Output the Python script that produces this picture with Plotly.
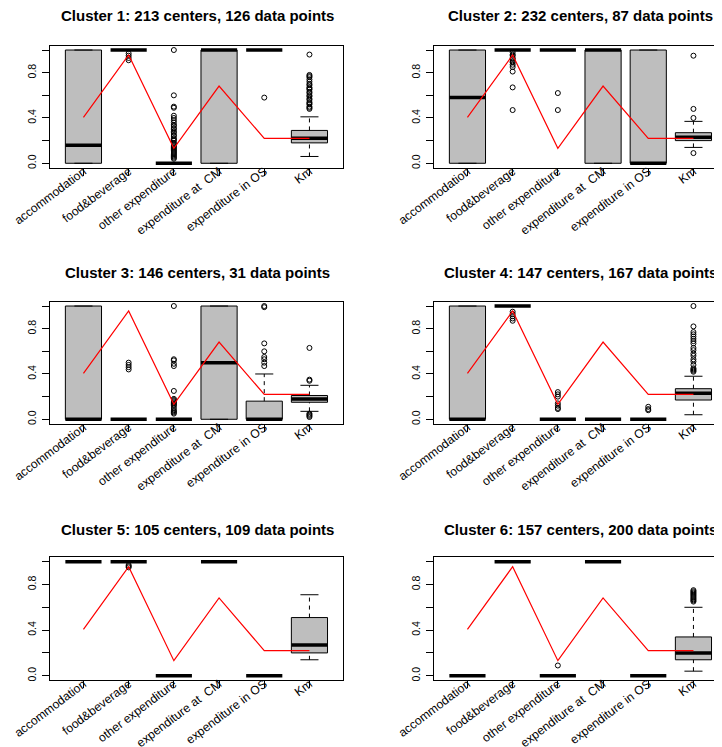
import plotly.graph_objects as go

categories = ["accommodation", "food&beverage", "other expenditure",
              "expenditure at\u00a0 CM", "expenditure in OS", "Km"]
x_pos = [1, 2, 3, 4, 5, 6]
overall_mean = [0.406, 0.956, 0.132, 0.682, 0.22, 0.22]

cluster_titles = [
    "Cluster 1: 213 centers, 126 data points",
    "Cluster 2: 232 centers, 87 data points",
    "Cluster 3: 146 centers, 31 data points",
    "Cluster 4: 147 centers, 167 data points",
    "Cluster 5: 105 centers, 109 data points",
    "Cluster 6: 157 centers, 200 data points",
]

# box statistics per category: lower whisker, q1, median, q3, upper whisker
c1_lower = [0.0, 1.0, 0.0, 0.0, 1.0, 0.06]
c1_q1 = [0.0, 1.0, 0.0, 0.0, 1.0, 0.18]
c1_med = [0.16, 1.0, 0.0, 1.0, 1.0, 0.22]
c1_q3 = [1.0, 1.0, 0.0, 1.0, 1.0, 0.29]
c1_upper = [1.0, 1.0, 0.0, 1.0, 1.0, 0.41]
c1_out = [
    [],
    [0.97, 0.95, 0.93, 0.91],
    [1.0, 0.60, 0.50, 0.49, 0.42, 0.40, 0.38, 0.36, 0.34, 0.33, 0.31, 0.30, 0.28,
     0.27, 0.25, 0.24, 0.22, 0.21, 0.20, 0.18, 0.17, 0.16, 0.15, 0.14, 0.13, 0.12,
     0.11, 0.10, 0.09, 0.08, 0.07, 0.06, 0.05, 0.04],
    [],
    [0.58],
    [0.96, 0.78, 0.77, 0.76, 0.74, 0.72, 0.70, 0.69, 0.67, 0.66, 0.65, 0.63, 0.62,
     0.60, 0.59, 0.57, 0.56, 0.54, 0.53, 0.52, 0.50, 0.49, 0.48],
]

c2_lower = [0.0, 1.0, 1.0, 0.0, 0.0, 0.14]
c2_q1 = [0.0, 1.0, 1.0, 0.0, 0.0, 0.20]
c2_med = [0.58, 1.0, 1.0, 1.0, 0.0, 0.23]
c2_q3 = [1.0, 1.0, 1.0, 1.0, 1.0, 0.27]
c2_upper = [1.0, 1.0, 1.0, 1.0, 1.0, 0.37]
c2_out = [
    [],
    [0.98, 0.96, 0.95, 0.93, 0.92, 0.90, 0.89, 0.87, 0.85, 0.81, 0.67, 0.47],
    [0.62, 0.47],
    [],
    [],
    [0.95, 0.48, 0.40, 0.09],
]

c3_lower = [0.0, 0.0, 0.0, 0.0, 0.0, 0.07]
c3_q1 = [0.0, 0.0, 0.0, 0.0, 0.0, 0.15]
c3_med = [0.0, 0.0, 0.0, 0.5, 0.0, 0.18]
c3_q3 = [1.0, 0.0, 0.0, 1.0, 0.16, 0.21]
c3_upper = [1.0, 0.0, 0.0, 1.0, 0.40, 0.30]
c3_out = [
    [],
    [0.50, 0.48, 0.46, 0.44],
    [1.0, 0.53, 0.52, 0.49, 0.47, 0.25, 0.18, 0.17, 0.16, 0.15, 0.14, 0.13, 0.12,
     0.10, 0.08, 0.07, 0.06, 0.05],
    [],
    [1.0, 0.99, 0.67, 0.60, 0.55, 0.53, 0.50, 0.47],
    [0.63, 0.35, 0.34, 0.05, 0.04, 0.03, 0.02],
]

c4_lower = [0.0, 1.0, 0.0, 0.0, 0.0, 0.04]
c4_q1 = [0.0, 1.0, 0.0, 0.0, 0.0, 0.17]
c4_med = [0.0, 1.0, 0.0, 0.0, 0.0, 0.23]
c4_q3 = [1.0, 1.0, 0.0, 0.0, 0.0, 0.27]
c4_upper = [1.0, 1.0, 0.0, 0.0, 0.0, 0.38]
c4_out = [
    [],
    [0.95, 0.93, 0.91, 0.89, 0.87],
    [0.24, 0.22, 0.20, 0.14, 0.12, 0.10, 0.09],
    [],
    [0.11, 0.09, 0.08],
    [1.0, 0.82, 0.77, 0.75, 0.73, 0.71, 0.69, 0.67, 0.63, 0.61, 0.58, 0.56, 0.53,
     0.51, 0.48, 0.45, 0.44, 0.43, 0.42],
]

c5_lower = [1.0, 1.0, 0.0, 1.0, 0.0, 0.14]
c5_q1 = [1.0, 1.0, 0.0, 1.0, 0.0, 0.20]
c5_med = [1.0, 1.0, 0.0, 1.0, 0.0, 0.27]
c5_q3 = [1.0, 1.0, 0.0, 1.0, 0.0, 0.51]
c5_upper = [1.0, 1.0, 0.0, 1.0, 0.0, 0.71]
c5_out = [[], [0.97, 0.96, 0.95], [], [], [], []]

c6_lower = [0.0, 1.0, 0.0, 1.0, 0.0, 0.04]
c6_q1 = [0.0, 1.0, 0.0, 1.0, 0.0, 0.14]
c6_med = [0.0, 1.0, 0.0, 1.0, 0.0, 0.20]
c6_q3 = [0.0, 1.0, 0.0, 1.0, 0.0, 0.34]
c6_upper = [0.0, 1.0, 0.0, 1.0, 0.0, 0.60]
c6_out = [
    [],
    [],
    [0.09],
    [],
    [],
    [0.75, 0.74, 0.73, 0.72, 0.71, 0.70, 0.69, 0.68, 0.67, 0.66, 0.65],
]

clusters = [
    (c1_lower, c1_q1, c1_med, c1_q3, c1_upper, c1_out),
    (c2_lower, c2_q1, c2_med, c2_q3, c2_upper, c2_out),
    (c3_lower, c3_q1, c3_med, c3_q3, c3_upper, c3_out),
    (c4_lower, c4_q1, c4_med, c4_q3, c4_upper, c4_out),
    (c5_lower, c5_q1, c5_med, c5_q3, c5_upper, c5_out),
    (c6_lower, c6_q1, c6_med, c6_q3, c6_upper, c6_out),
]

OFF = 8  # default page body margin
W, H = 722 - OFF, 747 - OFF
PXU = 45.2  # px per x unit
col_left = [50 - OFF, 434 - OFF]
row_top = [45.5 - OFF, 301.5 - OFF, 557.1 - OFF]
row_bot = [167.8 - OFF, 423.8 - OFF, 680.3 - OFF]
title_y = [16 - OFF, 272 - OFF, 529 - OFF]
title_x = [197 - OFF, 580 - OFF]
FONT = "Liberation Sans, Arial, sans-serif"

fig = go.Figure()
shapes = []
annotations = []
layout_axes = {}
BOXW = 0.4
STAP = 0.2

for p, (lo, q1, md, q3, up, outs) in enumerate(clusters):
    k = p + 1
    col = p % 2
    row = p // 2
    xa = "x" if k == 1 else f"x{k}"
    ya = "y" if k == 1 else f"y{k}"
    x_left_px = col_left[col]
    x_right_px = min(x_left_px + 6.48 * PXU, W)
    xmax = 0.26 + (x_right_px - x_left_px) / PXU
    layout_axes["xaxis" if k == 1 else f"xaxis{k}"] = dict(
        domain=[x_left_px / W, x_right_px / W],
        range=[0.26, xmax], anchor=ya, automargin=False,
        tickmode="array", tickvals=x_pos, ticktext=categories,
        tickangle=-37, ticks="outside", ticklen=7, tickwidth=1, tickcolor="black",
        showline=True, linecolor="black", linewidth=1, mirror=True,
        showgrid=False, zeroline=False, ticklabelstandoff=-16,
        tickfont=dict(family=FONT, size=12.2, color="black"),
    )
    layout_axes["yaxis" if k == 1 else f"yaxis{k}"] = dict(
        domain=[1 - row_bot[row] / H, 1 - row_top[row] / H],
        range=[-0.04, 1.04], anchor=xa, automargin=False,
        tickmode="array", tickvals=[0, 0.2, 0.4, 0.6, 0.8, 1.0],
        ticktext=["0.0", "", "0.4", "", "0.8", ""],
        tickangle=-90, ticks="outside", ticklen=7, tickwidth=1, tickcolor="black",
        showline=True, linecolor="black", linewidth=1, mirror=(col == 0),
        showgrid=False, zeroline=False, ticklabelstandoff=2,
        tickfont=dict(family=FONT, size=10.5, color="black"),
    )
    for i, xc in enumerate(x_pos):
        common = dict(xref=xa, yref=ya, layer="below")
        if q3[i] > q1[i]:
            shapes.append(dict(type="rect", x0=xc - BOXW, x1=xc + BOXW, y0=q1[i], y1=q3[i],
                               fillcolor="#BEBEBE", line=dict(color="black", width=1), **common))
        if up[i] > q3[i]:
            shapes.append(dict(type="line", x0=xc, x1=xc, y0=q3[i], y1=up[i],
                               line=dict(color="black", width=1, dash="4px,4px"), **common))
        if lo[i] < q1[i]:
            shapes.append(dict(type="line", x0=xc, x1=xc, y0=lo[i], y1=q1[i],
                               line=dict(color="black", width=1, dash="4px,4px"), **common))
        shapes.append(dict(type="line", x0=xc - STAP, x1=xc + STAP, y0=up[i], y1=up[i],
                           line=dict(color="black", width=1), **common))
        shapes.append(dict(type="line", x0=xc - STAP, x1=xc + STAP, y0=lo[i], y1=lo[i],
                           line=dict(color="black", width=1), **common))
        shapes.append(dict(type="line", x0=xc - BOXW, x1=xc + BOXW, y0=md[i], y1=md[i],
                           line=dict(color="black", width=3.5), **common))
    ox, oy = [], []
    for i, xc in enumerate(x_pos):
        for v in outs[i]:
            ox.append(xc)
            oy.append(v)
    fig.add_trace(go.Scatter(x=ox, y=oy, mode="markers", xaxis=xa, yaxis=ya,
                             marker=dict(symbol="circle-open", size=5, color="black",
                                         line=dict(width=1, color="black")),
                             showlegend=False, hoverinfo="skip"))
    fig.add_trace(go.Scatter(x=x_pos, y=overall_mean, mode="lines", xaxis=xa, yaxis=ya,
                             line=dict(color="red", width=1.2),
                             showlegend=False, hoverinfo="skip"))
    annotations.append(dict(text="<b>" + cluster_titles[p] + "</b>", xref="paper", yref="paper",
                            x=title_x[col] / W, y=1 - title_y[row] / H, xanchor="center",
                            yanchor="middle", showarrow=False,
                            font=dict(family=FONT, size=15, color="black")))

fig.update_layout(
    width=W, height=H, margin=dict(l=0, r=0, t=0, b=0, autoexpand=False),
    paper_bgcolor="white", plot_bgcolor="white",
    shapes=shapes, annotations=annotations, showlegend=False,
    **layout_axes,
)
fig.write_html("out.html")
